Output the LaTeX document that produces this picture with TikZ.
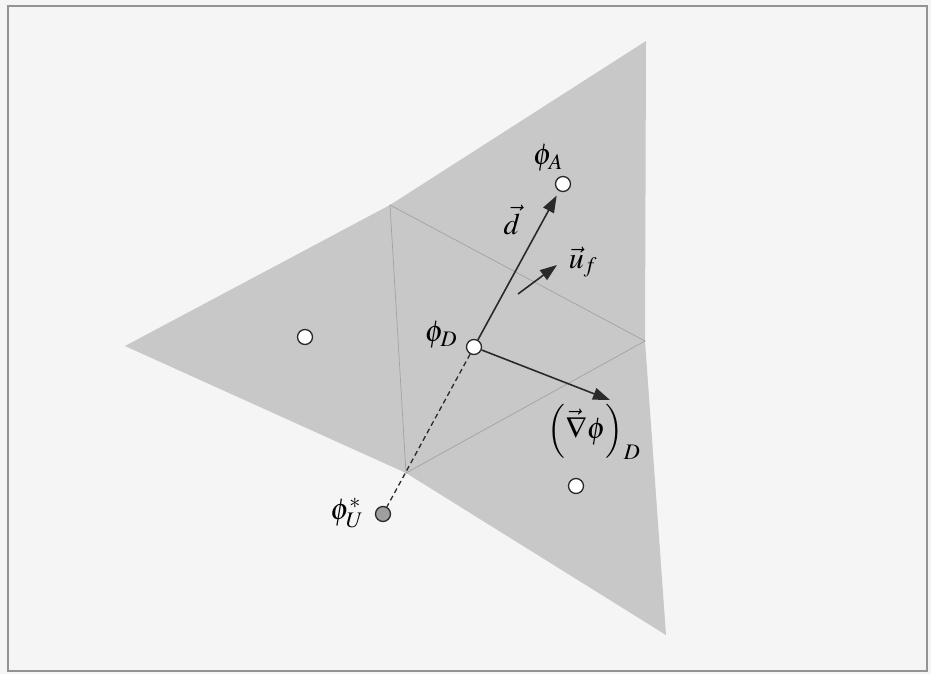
\documentclass[tikz,border=0pt]{standalone}
\usepackage{amsmath}
\usepackage{mathptmx}
\usepackage{tikz}
\usetikzlibrary{positioning, arrows.meta, calc}

\definecolor{cellfill}{HTML}{C8C8C8}
\definecolor{celledge}{HTML}{A2A2A2}
\definecolor{paper}{HTML}{F5F5F5}
\definecolor{ink}{HTML}{2A2A2A}

\tikzset{
    centroid/.style={circle, draw=ink, fill=white, line width=1.3pt, inner sep=0pt, minimum size=15pt},
    upwind/.style={circle, draw=ink, fill=gray!75, line width=1.3pt, inner sep=0pt, minimum size=15pt},
    vec/.style={draw=ink, line width=1.6pt, -{Triangle[length=17pt, width=12pt]}},
    lbl/.style={font=\fontsize{30}{34}\selectfont, inner sep=1pt}
}

\begin{document}
\begin{tikzpicture}[x=1pt, y=-1pt]
    \useasboundingbox (0,0) rectangle (931,674);
    \fill[paper] (0,0) rectangle (931,674);
    \draw[gray!85, line width=1.5pt] (8,6) rectangle (927,671);
    % --- mesh vertices ---
    \coordinate (L) at (125,346);
    \coordinate (T) at (646,41);
    \coordinate (P1) at (390,205);
    \coordinate (P2) at (645,341);
    \coordinate (P3) at (406,473);
    \coordinate (B) at (666,635);
    % --- cells ---
    \fill[cellfill] (L) -- (P1) -- (T) -- (P2) -- (B) -- (P3) -- cycle;
    \draw[celledge, line width=0.7pt] (P1) -- (P2) -- (P3) -- cycle;
    % --- cell centres ---
    \node[centroid] (phiA) at (563,184) {};
    \node[centroid] (phiD) at (474,347) {};
    \node[centroid] (phiL) at (305,337) {};
    \node[centroid] (phiR) at (576,486) {};
    \node[upwind] (phiU) at (383,514) {};
    % --- vectors ---
    \draw[ink, line width=1.3pt, dash pattern=on 5pt off 3.5pt] (phiD) -- (phiU);
    \draw[vec, shorten >=5pt] (phiD) -- (phiA);
    \draw[vec] (phiD) -- (610,400);
    \coordinate (uf0) at (518,294);
    \coordinate (uf1) at (557,265);
    \draw[vec] (uf0) -- (uf1);
    % --- labels ---
    \node[lbl] at (548,158) {$\phi_A$};
    \node[lbl] at (512,220) {$\vec{d}$};
    \node[lbl] at (583,262) {$\vec{u}_f$};
    \node[lbl] at (441,335) {$\phi_D$};
    \node[lbl] at (594,432) {$\left(\vec{\nabla}\phi\right)_D$};
    \node[lbl] at (347,513) {$\phi_U^*$};
\end{tikzpicture}
\end{document}
